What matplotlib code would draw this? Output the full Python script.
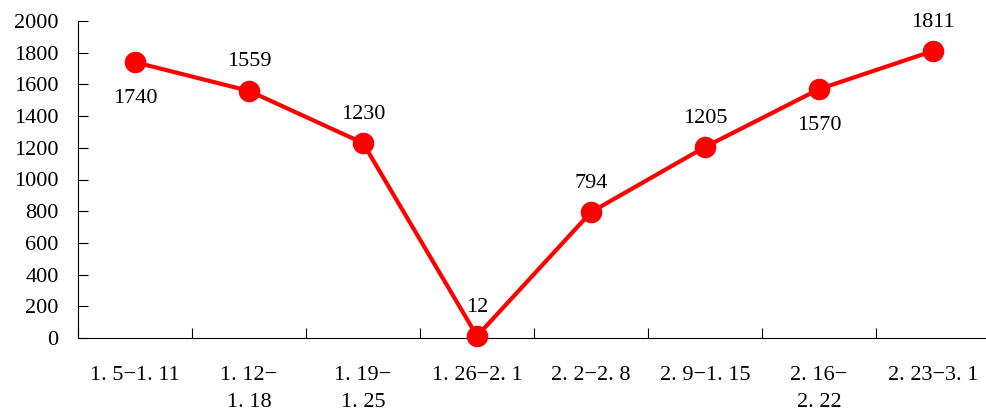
import matplotlib.pyplot as plt
import numpy as np

plt.rcParams['font.family'] = ['Liberation Serif', 'DejaVu Serif']

periods = ["1. 5−1. 11", "1. 12−\n1. 18", "1. 19−\n1. 25", "1. 26−2. 1",
           "2. 2−2. 8", "2. 9−1. 15", "2. 16−\n2. 22", "2. 23−3. 1"]
values = [1740, 1559, 1230, 12, 794, 1205, 1570, 1811]
# label placement: True = above the point, False = below
above = [False, True, True, True, True, True, False, True]

fig = plt.figure(figsize=(9.86, 4.16), dpi=100)
ax = fig.add_axes([78 / 986, 78 / 416, 912 / 986, 317 / 416])

x = np.arange(len(values))
ax.plot(x, values, color="#ff0000", lw=3, marker="o", ms=14.5,
        markerfacecolor="#ff0000", markeredgecolor="#ff0000", clip_on=False, zorder=3)

for xi, v, up in zip(x, values, above):
    ax.annotate(str(v), (xi, v), xytext=(0, 14 if up else -19),
                textcoords="offset points", ha="center",
                va="bottom" if up else "top", fontsize=16)

ax.set_xlim(-0.5, len(values) - 0.5)
ax.set_ylim(0, 2000)
ax.set_yticks(np.arange(0, 2001, 200))
ax.tick_params(axis="y", direction="in", length=7, labelsize=16, pad=14)

ax.set_xticks(np.arange(len(values) + 1) - 0.5, minor=False)
ax.set_xticklabels([])
ax.tick_params(axis="x", which="major", direction="in", length=7)
ax.set_xticks(x, minor=True)
ax.set_xticklabels(periods, minor=True, fontsize=16, linespacing=1.6)
ax.tick_params(axis="x", which="minor", length=0, pad=20)

for s in ["top", "right"]:
    ax.spines[s].set_visible(False)

fig.savefig("out.png", dpi=100)
